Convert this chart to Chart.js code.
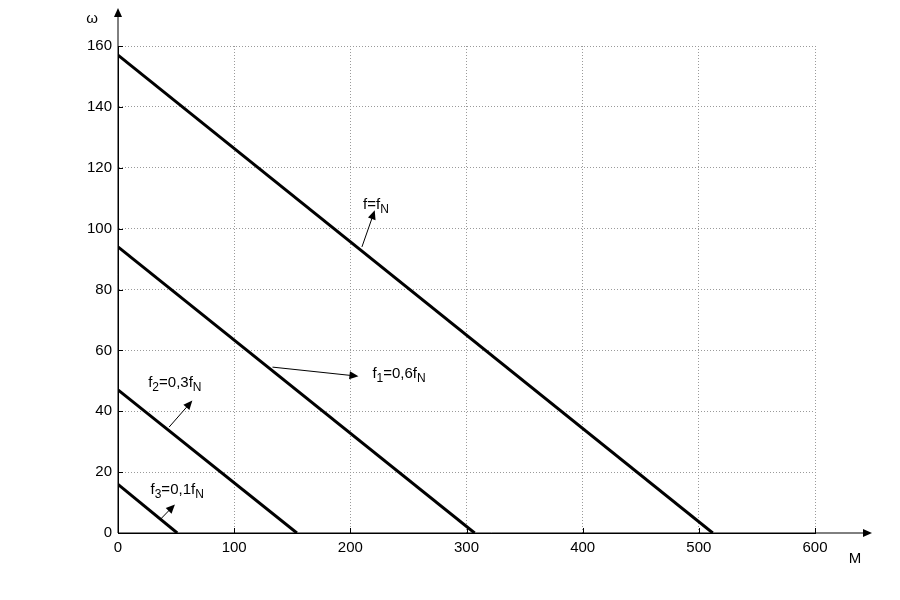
<!DOCTYPE html>
<html>
<head>
<meta charset="utf-8">
<script src="https://cdn.jsdelivr.net/npm/chart.js@4"></script>
<style>
  html, body { margin: 0; padding: 0; background: #fff; }
  #wrap { width: 900px; height: 600px; }
</style>
</head>
<body>
<div id="wrap"><canvas id="grafico"></canvas></div>
<script>
// valores (M no eixo x, omega no eixo y)
const nomesCurvas = ['f=fN', 'f1=0,6fN', 'f2=0,3fN', 'f3=0,1fN'];
const omegaInicial = [157, 94, 47, 16];   // omega em M = 0
const momentoFinal = [512, 307, 154, 51]; // M em omega = 0
const ticksX = [0, 100, 200, 300, 400, 500, 600];
const ticksY = [0, 20, 40, 60, 80, 100, 120, 140, 160];

// rotulos das curvas: texto, indice e ponta/cauda da seta (em unidades dos eixos)
const rotulos = [
  { base: 'f=f', sub: '', sub2: 'N', tx: 211, ty: 108, de: [210, 94], para: [221, 106] },
  { base: 'f', sub: '1', resto: '=0,6f', sub2: 'N', tx: 219, ty: 52.5, de: [133, 54.5], para: [207, 51.5] },
  { base: 'f', sub: '2', resto: '=0,3f', sub2: 'N', tx: 26, ty: 49.5, de: [44, 34.8], para: [64, 43.5] },
  { base: 'f', sub: '3', resto: '=0,1f', sub2: 'N', tx: 28, ty: 14.3, de: [36, 4.3], para: [49, 9.4] }
];

function seta(ctx, x1, y1, x2, y2, tam, larg) {
  const ang = Math.atan2(y2 - y1, x2 - x1);
  ctx.beginPath();
  ctx.moveTo(x1, y1);
  ctx.lineTo(x2 - Math.cos(ang) * tam * 0.8, y2 - Math.sin(ang) * tam * 0.8);
  ctx.stroke();
  ctx.beginPath();
  ctx.moveTo(x2, y2);
  ctx.lineTo(x2 - tam * Math.cos(ang) + larg * Math.sin(ang), y2 - tam * Math.sin(ang) - larg * Math.cos(ang));
  ctx.lineTo(x2 - tam * Math.cos(ang) - larg * Math.sin(ang), y2 - tam * Math.sin(ang) + larg * Math.cos(ang));
  ctx.closePath();
  ctx.fill();
}

const pluginEixos = {
  id: 'eixos',
  afterDraw(chart) {
    const ctx = chart.ctx;
    const a = chart.chartArea;
    const sx = chart.scales.x;
    const sy = chart.scales.y;
    ctx.save();
    ctx.strokeStyle = '#000';
    ctx.fillStyle = '#000';
    ctx.lineWidth = 1;

    // eixos prolongados com setas
    seta(ctx, a.left, a.bottom, a.left, a.top - 38, 9, 4);
    seta(ctx, a.left, a.bottom, a.right + 57, a.bottom, 9, 4);

    // marcas de escala para dentro
    ctx.beginPath();
    ticksX.forEach(v => {
      const p = Math.round(sx.getPixelForValue(v)) + 0.5;
      ctx.moveTo(p, a.bottom);
      ctx.lineTo(p, a.bottom - 5);
    });
    ticksY.forEach(v => {
      const p = Math.round(sy.getPixelForValue(v)) + 0.5;
      ctx.moveTo(a.left, p);
      ctx.lineTo(a.left + 5, p);
    });
    ctx.stroke();

    // nomes dos eixos
    ctx.font = '15px "Liberation Sans", Arial, sans-serif';
    ctx.textAlign = 'center';
    ctx.textBaseline = 'middle';
    ctx.fillText('\u03c9', a.left - 26, 19);
    ctx.fillText('M', a.right + 40, 559);

    // rotulos das curvas
    rotulos.forEach(r => {
      const x = sx.getPixelForValue(r.tx);
      const y = sy.getPixelForValue(r.ty);
      let cx = x;
      ctx.textAlign = 'left';
      ctx.textBaseline = 'alphabetic';
      const grande = '15px "Liberation Sans", Arial, sans-serif';
      const pequeno = '12px "Liberation Sans", Arial, sans-serif';
      ctx.font = grande;
      ctx.fillText(r.base, cx, y + 5);
      cx += ctx.measureText(r.base).width;
      if (r.sub) {
        ctx.font = pequeno;
        ctx.fillText(r.sub, cx, y + 9);
        cx += ctx.measureText(r.sub).width;
        ctx.font = grande;
        ctx.fillText(r.resto, cx, y + 5);
        cx += ctx.measureText(r.resto).width;
      }
      ctx.font = pequeno;
      ctx.fillText(r.sub2, cx, y + 9);

      seta(ctx,
        sx.getPixelForValue(r.de[0]), sy.getPixelForValue(r.de[1]),
        sx.getPixelForValue(r.para[0]), sy.getPixelForValue(r.para[1]), 9, 4);
    });
    ctx.restore();
  }
};

function constroiGrafico() {
  const datasets = nomesCurvas.map((nome, i) => ({
    label: nome,
    data: [{ x: 0, y: omegaInicial[i] }, { x: momentoFinal[i], y: 0 }],
    borderColor: '#000',
    borderWidth: 3,
    pointRadius: 0,
    showLine: true,
    fill: false
  }));

  const fonteTicks = { family: '"Liberation Sans", Arial, sans-serif', size: 15 };

  new Chart(document.getElementById('grafico'), {
    type: 'scatter',
    data: { datasets: datasets },
    options: {
      responsive: true,
      maintainAspectRatio: false,
      animation: false,
      layout: { padding: { left: 0, right: 85, top: 46, bottom: 0 } },
      plugins: { legend: { display: false }, tooltip: { enabled: false } },
      scales: {
        x: {
          type: 'linear',
          min: 0, max: 600,
          afterBuildTicks: s => { s.ticks = ticksX.map(v => ({ value: v })); },
          afterFit: s => { s.height = 67; },
          ticks: { color: '#000', font: fonteTicks, padding: 6, maxRotation: 0 },
          grid: { color: '#9a9a9a', lineWidth: 1, drawTicks: false },
          border: { display: true, color: '#000', width: 1, dash: [1, 2] }
        },
        y: {
          type: 'linear',
          min: 0, max: 160,
          afterBuildTicks: s => { s.ticks = ticksY.map(v => ({ value: v })); },
          afterFit: s => { s.width = 118; },
          ticks: { color: '#000', font: fonteTicks, padding: 6 },
          grid: { color: '#9a9a9a', lineWidth: 1, drawTicks: false },
          border: { display: true, color: '#000', width: 1, dash: [1, 2] }
        }
      }
    },
    plugins: [pluginEixos]
  });
}

constroiGrafico();
</script>
</body>
</html>
